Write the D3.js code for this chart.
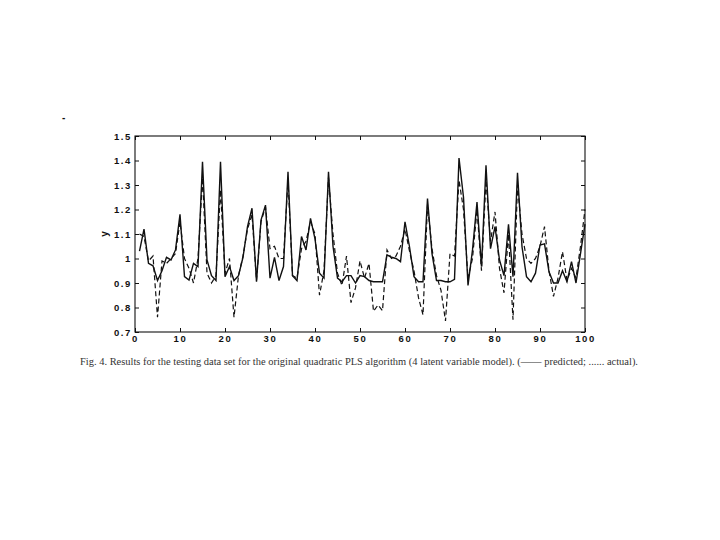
<!DOCTYPE html>
<html>
<head>
<meta charset="utf-8">
<script src="https://cdn.jsdelivr.net/npm/d3@7"></script>
<style>
  body { margin: 0; background: #fff; }
  svg { display: block; }
</style>
</head>
<body>
<div id="chart"></div>
<script>
var w = 720;
var h = 540;

// sample index 1..100
var idx = d3.range(1, 101);

// predicted (solid line)
var predicted = [
  1.03, 1.12, 0.98, 0.97, 0.91, 0.95, 1.005, 0.994, 1.035, 1.18,
  0.926, 0.912, 0.98, 0.967, 1.395, 0.994, 0.93, 0.91, 1.395, 0.926,
  0.967, 0.91, 0.93, 1.005, 1.13, 1.205, 0.905, 1.157, 1.218, 0.92,
  1.005, 0.91, 0.967, 1.354, 0.93, 0.91, 1.09, 1.035, 1.164, 1.08,
  0.94, 0.92, 1.354, 1.05, 0.92, 0.905, 0.93, 0.93, 0.9, 0.93,
  0.926, 0.91, 0.905, 0.905, 0.905, 1.015, 1.005, 1.0, 0.987, 1.15,
  1.048, 0.926, 0.905, 0.905, 1.245, 1.02, 0.91, 0.91, 0.905, 0.905,
  0.915, 1.41, 1.25, 0.89, 1.035, 1.23, 0.967, 1.38, 1.04, 1.13,
  0.994, 0.93, 1.14, 0.926, 1.35, 1.048, 0.926, 0.905, 0.94, 1.055,
  1.06, 0.946, 0.9, 0.9, 0.95, 0.905, 0.987, 0.9, 1.02, 1.14
];

// actual (dashed line)
var actual = [
  1.1, 1.09, 0.99, 1.01, 0.76, 0.99, 0.98, 1.0, 1.02, 1.15,
  1.0, 0.96, 0.9, 1.0, 1.33, 0.94, 0.9, 0.93, 1.28, 0.94,
  1.0, 0.76, 0.93, 1.01, 1.12, 1.18, 0.91, 1.15, 1.21, 1.04,
  1.05, 1.0, 1.0, 1.32, 0.93, 0.92, 1.04, 1.07, 1.15, 1.1,
  0.85, 0.95, 1.33, 1.1, 0.94, 0.89, 1.01, 0.82, 0.88, 0.99,
  0.92, 0.98, 0.785, 0.81, 0.787, 1.035, 1.0, 1.01, 1.05, 1.12,
  1.03, 0.95, 0.84, 0.77, 1.22, 1.04, 0.93, 0.87, 0.745, 1.02,
  1.01, 1.32, 1.2, 0.92, 1.0, 1.2, 0.95, 1.32, 1.07, 1.19,
  0.96, 0.86, 1.1, 0.75, 1.3, 1.1, 1.0, 0.98, 1.0, 1.05,
  1.13, 0.95, 0.845, 0.92, 1.028, 0.91, 0.96, 0.92, 1.05, 1.2
];

var xTicks = [0, 10, 20, 30, 40, 50, 60, 70, 80, 90, 100];
var yTicks = [0.7, 0.8, 0.9, 1.0, 1.1, 1.2, 1.3, 1.4, 1.5];

var caption = "Fig. 4. Results for the testing data set for the original quadratic PLS algorithm (4 latent variable model). (\u2014\u2014 predicted; ...... actual).";

var margin = {left: 135, right: 135, top: 136, bottom: 208};

var svg = d3.select("#chart")
            .append("svg")
            .attr("width", w)
            .attr("height", h);

var x = d3.scaleLinear().domain([0, 100]).range([margin.left, w - margin.right]);
var y = d3.scaleLinear().domain([0.7, 1.5]).range([h - margin.bottom, margin.top]);

var fmt = function(d){ return d == 1 ? "1" : d3.format(".1f")(d); };

// axes, ticks pointing inward
var axisStyle = function(g){
  g.select(".domain").remove();
  g.selectAll("line").attr("stroke", "#111").attr("stroke-width", 1);
  g.selectAll("text")
   .attr("fill", "#111")
   .style("font-family", "'Liberation Sans', Arial, sans-serif")
   .style("font-size", "9.5px")
   .style("font-weight", "bold")
   .style("letter-spacing", "1.6px");
};

svg.append("g")
   .attr("transform", "translate(0," + y(0.7) + ")")
   .call(d3.axisBottom(x).tickValues(xTicks).tickSize(-4).tickPadding(3))
   .call(axisStyle);

svg.append("g")
   .attr("transform", "translate(0," + y(1.5) + ")")
   .call(d3.axisTop(x).tickValues(xTicks).tickSize(-4).tickFormat(""))
   .call(axisStyle);

svg.append("g")
   .attr("transform", "translate(" + x(0) + ",0)")
   .call(d3.axisLeft(y).tickValues(yTicks).tickSize(-4).tickPadding(3).tickFormat(fmt))
   .call(axisStyle);

svg.append("g")
   .attr("transform", "translate(" + x(100) + ",0)")
   .call(d3.axisRight(y).tickValues(yTicks).tickSize(-4).tickFormat(""))
   .call(axisStyle);

// frame
svg.append("rect")
   .attr("x", x(0))
   .attr("y", y(1.5))
   .attr("width", x(100) - x(0))
   .attr("height", y(0.7) - y(1.5))
   .attr("fill", "none")
   .attr("stroke", "#111")
   .attr("stroke-width", 1.1);

var line = d3.line()
             .x(function(d, i){ return x(idx[i]); })
             .y(function(d){ return y(d); });

svg.append("path")
   .datum(actual)
   .attr("d", line)
   .attr("fill", "none")
   .attr("stroke", "#111")
   .attr("stroke-width", 1.2)
   .attr("stroke-dasharray", "5,3");

svg.append("path")
   .datum(predicted)
   .attr("d", line)
   .attr("fill", "none")
   .attr("stroke", "#111")
   .attr("stroke-width", 1.4);

// y axis label
svg.append("text")
   .attr("transform", "translate(108," + y(1.1) + ") rotate(-90)")
   .attr("text-anchor", "middle")
   .style("font-family", "'Liberation Sans', Arial, sans-serif")
   .style("font-size", "10px")
   .style("font-weight", "bold")
   .attr("fill", "#111")
   .text("y");

// caption
svg.append("text")
   .attr("x", 80)
   .attr("y", 365)
   .attr("textLength", 558)
   .attr("lengthAdjust", "spacingAndGlyphs")
   .style("font-family", "'Liberation Serif', 'Times New Roman', serif")
   .style("font-size", "10.5px")
   .attr("fill", "#333")
   .text(caption);

// stray mark at top left of the scan
svg.append("text")
   .attr("x", 62)
   .attr("y", 121)
   .style("font-family", "'Liberation Sans', Arial, sans-serif")
   .style("font-size", "10px")
   .style("font-weight", "bold")
   .attr("fill", "#111")
   .text("-");
</script>
</body>
</html>
